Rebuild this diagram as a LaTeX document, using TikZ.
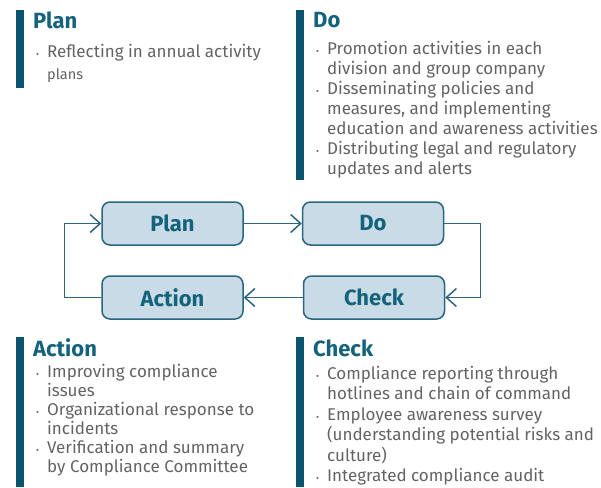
\documentclass[tikz,border=0pt]{standalone}
\usepackage{fontspec}
\setmainfont{Fira Sans}
\usetikzlibrary{positioning,arrows.meta}
\definecolor{pdcateal}{HTML}{0B5470}
\definecolor{pdcahead}{HTML}{15627C}
\definecolor{pdcagrey}{HTML}{626365}
\definecolor{pdcafill}{HTML}{C9DBE6}
\definecolor{pdcaline}{HTML}{2A6580}
\newcommand{\bul}{\makebox[11pt][l]{\small\textbullet}}
\newcommand{\cont}{\hspace*{11pt}}

\begin{document}
\begin{tikzpicture}[x=1pt,y=-1pt,
    stagebox/.style={draw=pdcaline, line width=1.5pt, rounded corners=8pt, fill=pdcafill,
                     minimum width=141pt, minimum height=43pt,
                     font=\fontsize{22}{26}\selectfont\bfseries, text=pdcahead},
    sidebar/.style={fill=pdcateal, draw=none},
    head/.style={anchor=base west, inner sep=0pt, font=\fontsize{22}{26}\selectfont\bfseries, text=pdcahead},
    items/.style={anchor=north west, inner sep=0pt, align=left, text=pdcagrey},
    arr/.style={-{Straight Barb[length=10pt,width=18pt]}, line width=1.5pt, pdcaline}]
  \useasboundingbox (0,0) rectangle (601,487);

  % side bars
  \fill[sidebar] (16,10) rectangle (24,88);
  \fill[sidebar] (296,10) rectangle (304,180);
  \fill[sidebar] (16,337) rectangle (24,487);
  \fill[sidebar] (296,337) rectangle (304,487);

  % Plan
  \node[head] (planhead) at (33,29) {Plan};
  \node[items, font=\fontsize{17}{22}\selectfont] (planitems) at (36,44)
    {\bul Reflecting in annual activity\\
     \cont{\fontsize{14.5}{22}\selectfont plans}};

  % Do
  \node[head] (dohead) at (313,28) {Do};
  \node[items, font=\fontsize{17}{20}\selectfont] (doitems) at (316,41)
    {\bul Promotion activities in each\\
     \cont division and group company\\
     \bul Disseminating policies and\\
     \cont measures, and implementing\\
     \cont education and awareness activities\\
     \bul Distributing legal and regulatory\\
     \cont updates and alerts};

  % Action
  \node[head] (acthead) at (33,356) {Action};
  \node[items, font=\fontsize{17}{19}\selectfont] (actitems) at (36,364)
    {\bul Improving compliance\\
     \cont issues\\
     \bul Organizational response to\\
     \cont incidents\\
     \bul Verification and summary\\
     \cont by Compliance Committee};

  % Check
  \node[head] (checkhead) at (313,356) {Check};
  \node[items, font=\fontsize{17}{20.5}\selectfont] (checkitems) at (316,366)
    {\bul Compliance reporting through\\
     \cont hotlines and chain of command\\
     \bul Employee awareness survey\\
     \cont (understanding potential risks and\\
     \cont culture)\\
     \bul Integrated compliance audit};

  % cycle
  \node[stagebox] (plan)   at (172.5,223.5) {Plan};
  \node[stagebox] (do)     at (373,223.5)   {Do};
  \node[stagebox] (action) at (172.5,297.5) {Action};
  \node[stagebox] (check)  at (374,297.5)   {Check};

  \draw[arr] (plan) -- (do);
  \draw[arr] (do.east) -- ++(36,0) |- (check.east);
  \draw[arr] (check) -- (action);
  \draw[arr] (action.west) -- ++(-37,0) |- (plan.west);
\end{tikzpicture}
\end{document}
